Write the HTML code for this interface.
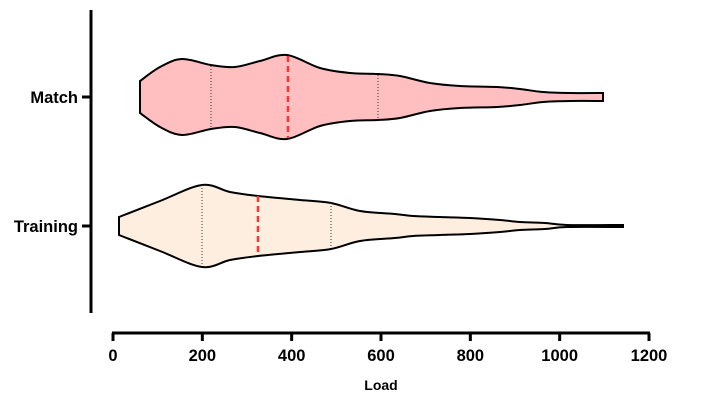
<!DOCTYPE html>
<html><head><style>body{margin:0;background:#fff}svg{display:block}text{font-family:"Liberation Sans",Arial,sans-serif;font-weight:bold;font-size:16.5px;fill:#000}</style></head>
<body>
<svg id="s" width="708" height="403" xmlns="http://www.w3.org/2000/svg">
<path id="m" fill="#FFBFC0" stroke="#000" stroke-width="2"/>
<path id="t" fill="#FDEEE0" stroke="#000" stroke-width="2"/>
<line x1="211" y1="66" x2="211" y2="128" stroke="#333" stroke-width="1" stroke-dasharray="1,2"/>
<line x1="378" y1="75" x2="378" y2="119" stroke="#333" stroke-width="1" stroke-dasharray="1,2"/>
<line x1="288" y1="56" x2="288" y2="138" stroke="#f33" stroke-width="2.5" stroke-dasharray="6,4"/>
<line x1="202" y1="185" x2="202" y2="265" stroke="#333" stroke-width="1" stroke-dasharray="1,2"/>
<line x1="331" y1="203" x2="331" y2="248" stroke="#333" stroke-width="1" stroke-dasharray="1,2"/>
<line x1="258" y1="196" x2="258" y2="255" stroke="#f33" stroke-width="2.5" stroke-dasharray="6,4"/>
<line x1="91" y1="10" x2="91" y2="313" stroke="#000" stroke-width="3"/>
<line x1="82" y1="97" x2="91" y2="97" stroke="#000" stroke-width="3"/>
<line x1="82" y1="226" x2="91" y2="226" stroke="#000" stroke-width="3"/>
<text x="78" y="103" text-anchor="end">Match</text>
<text x="78" y="232" text-anchor="end">Training</text>
<line x1="112" y1="333" x2="650" y2="333" stroke="#000" stroke-width="3"/>
<g id="ticks"></g>
<text x="381" y="390" text-anchor="middle" style="font-size:14px">Load</text>
</svg>
<script>
function cr(pts){let d="";for(let i=0;i<pts.length-1;i++){const p0=pts[i-1]||pts[i],p1=pts[i],p2=pts[i+1],p3=pts[i+2]||p2;const c1=[p1[0]+(p2[0]-p0[0])/6,p1[1]+(p2[1]-p0[1])/6],c2=[p2[0]-(p3[0]-p1[0])/6,p2[1]-(p3[1]-p1[1])/6];d+=" C"+c1+" "+c2+" "+p2;}return d;}
function violin(prof,cy){const top=prof.map(p=>[p[0],cy-p[1]]);const bot=prof.slice().reverse().map(p=>[p[0],cy+p[1]]);
return "M"+top[0]+cr(top)+" L"+bot[0]+cr(bot)+" Z";}
const mp=[[140,16],[160,30],[182,38],[211,32],[235,30],[260,36],[287,42],[320,29],[350,24],[378,23],[400,21],[430,14],[460,11],[497,10],[520,8],[543,5],[570,4],[603,4]];
const tp=[[119,9],[160,25],[202,41],[230,34],[258,30],[300,26],[331,23],[360,15],[395,12],[413,10],[440,9],[470,8],[500,6],[520,4],[545,3],[567,1],[623,1]];
document.getElementById("m").setAttribute("d",violin(mp,97));
document.getElementById("t").setAttribute("d",violin(tp,226));
let g="";for(let v=0;v<=1200;v+=200){const x=113+v*536/1200;g+=`<line x1="${x}" y1="333" x2="${x}" y2="341" stroke="#000" stroke-width="3"/><text x="${x}" y="361" text-anchor="middle">${v}</text>`;}
document.getElementById("ticks").innerHTML=g;
</script>
</body></html>
